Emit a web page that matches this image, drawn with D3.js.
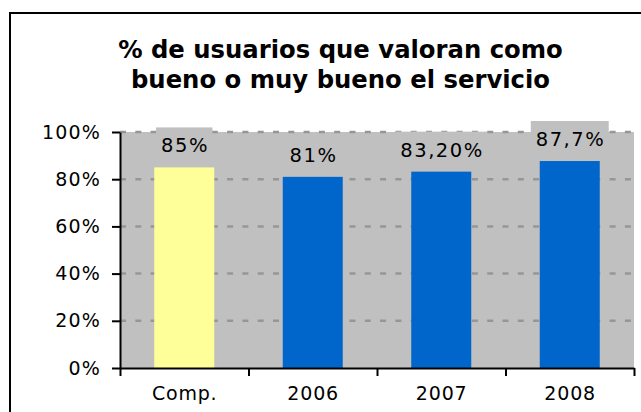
<!DOCTYPE html>
<html>
<head>
<meta charset="utf-8">
<script src="https://cdn.jsdelivr.net/npm/d3@7"></script>
<style>
  html, body { margin: 0; padding: 0; background: #fff; }
  svg { display: block; }
  text { font-family: "DejaVu Sans", Verdana, sans-serif; }
</style>
</head>
<body>
<div id="chart"></div>
<script>
// Survey results: share of users rating the service good or very good
const categories = ["Comp.", "2006", "2007", "2008"];
const values = [0.85, 0.81, 0.832, 0.877];
const valueLabels = ["85%", "81%", "83,20%", "87,7%"];
const barColors = ["#FFFF99", "#0066CC", "#0066CC", "#0066CC"];
const yTicks = [0, 0.2, 0.4, 0.6, 0.8, 1];
const titleLines = ["% de usuarios que valoran como", "bueno o muy bueno el servicio"];

const W = 641, H = 412;
const plot = { left: 120, right: 634, top: 132, bottom: 368 };

const svg = d3.select("#chart").append("svg")
  .attr("width", W).attr("height", H);

// chart frame (runs off the right and bottom edges)
svg.append("rect")
  .attr("x", 10).attr("y", 13)
  .attr("width", 700).attr("height", 500)
  .attr("fill", "#fff")
  .attr("stroke", "#000").attr("stroke-width", 2);

// title
svg.append("g").selectAll("text")
  .data(titleLines)
  .join("text")
  .attr("x", 340.5)
  .attr("y", (d, i) => 58 + i * 30)
  .attr("text-anchor", "middle")
  .attr("font-size", 24.3)
  .attr("font-weight", "bold")
  .attr("fill", "#000")
  .text(d => d);

const y = d3.scaleLinear().domain([0, 1]).range([plot.bottom, plot.top]);
const xBand = d3.scaleBand().domain(categories).range([plot.left, plot.right]).padding(0);
const xEdge = d3.scaleLinear().domain([0, categories.length]).range([plot.left, plot.right]);
const barWidth = xBand.bandwidth() * 0.467;

// plot background
svg.append("rect")
  .attr("x", plot.left).attr("y", plot.top)
  .attr("width", plot.right - plot.left)
  .attr("height", plot.bottom - plot.top)
  .attr("fill", "#C0C0C0");

// dashed gridlines
svg.append("g").selectAll("line")
  .data(yTicks.filter(d => d > 0))
  .join("line")
  .attr("x1", plot.left).attr("x2", plot.right)
  .attr("y1", d => y(d)).attr("y2", d => y(d))
  .attr("stroke", "#969696")
  .attr("stroke-width", 2.5)
  .attr("stroke-dasharray", "6,9.3");

// bars
svg.append("g").selectAll("rect")
  .data(values)
  .join("rect")
  .attr("x", (d, i) => xBand(categories[i]) + (xBand.bandwidth() - barWidth) / 2)
  .attr("y", d => y(d))
  .attr("width", barWidth)
  .attr("height", d => y(0) - y(d))
  .attr("fill", (d, i) => barColors[i]);

// value labels with boxed background
const labelLS = 1.5;
const lbl = svg.append("g").selectAll("g")
  .data(values)
  .join("g")
  .attr("transform", (d, i) =>
    `translate(${xBand(categories[i]) + xBand.bandwidth() / 2 + labelLS / 2},${y(d) - 15})`);

lbl.append("text")
  .attr("text-anchor", "middle")
  .attr("font-size", 19.5)
  .attr("letter-spacing", labelLS)
  .attr("fill", "#000")
  .text((d, i) => valueLabels[i]);

lbl.each(function () {
  const g = d3.select(this);
  const bb = g.select("text").node().getBBox();
  g.insert("rect", "text")
    .attr("x", bb.x - 5)
    .attr("y", -25)
    .attr("width", bb.width + 10 - labelLS)
    .attr("height", 31)
    .attr("fill", "#C0C0C0");
});

// y axis
const yAxis = svg.append("g")
  .attr("transform", `translate(${plot.left},0)`)
  .call(d3.axisLeft(y)
    .tickValues(yTicks)
    .tickFormat(d3.format(".0%"))
    .tickSize(8)
    .tickSizeOuter(0)
    .tickPadding(11));
yAxis.select(".domain").attr("stroke", "#000").attr("stroke-width", 2);
yAxis.selectAll(".tick line").attr("stroke", "#000").attr("stroke-width", 2);
yAxis.selectAll(".tick text")
  .attr("font-size", 19)
  .attr("letter-spacing", 1.2)
  .attr("font-family", "DejaVu Sans, Verdana, sans-serif")
  .attr("fill", "#000");

// x axis: ticks at category boundaries
const xAxis = svg.append("g")
  .attr("transform", `translate(0,${plot.bottom})`)
  .call(d3.axisBottom(xEdge)
    .tickValues(d3.range(categories.length + 1))
    .tickFormat("")
    .tickSize(8)
    .tickSizeOuter(0));
xAxis.select(".domain").attr("stroke", "#000").attr("stroke-width", 2);
xAxis.selectAll(".tick line").attr("stroke", "#000").attr("stroke-width", 2);

// category labels
svg.append("g").selectAll("text")
  .data(categories)
  .join("text")
  .attr("x", d => xBand(d) + xBand.bandwidth() / 2 + 0.4)
  .attr("y", 400)
  .attr("text-anchor", "middle")
  .attr("font-size", 19)
  .attr("letter-spacing", 0.8)
  .attr("fill", "#000")
  .text(d => d);
</script>
</body>
</html>
